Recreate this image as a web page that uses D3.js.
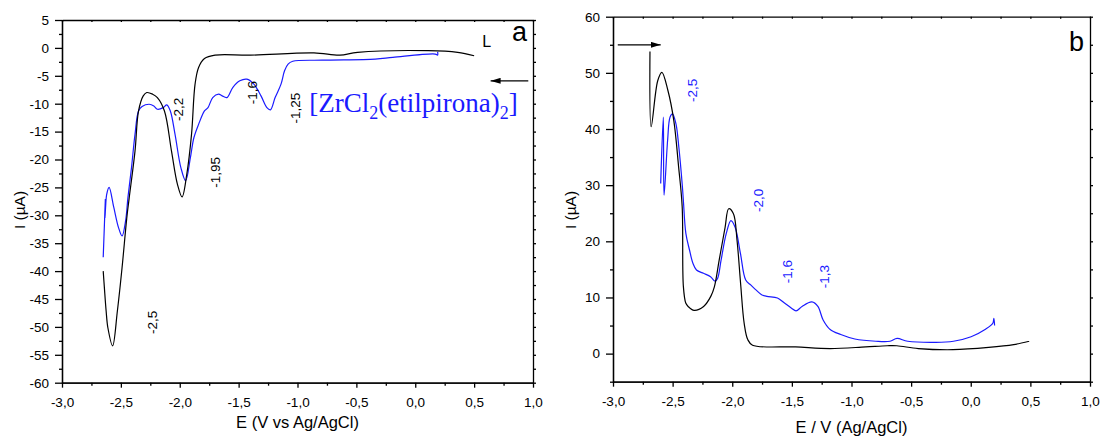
<!DOCTYPE html>
<html>
<head>
<meta charset="utf-8">
<script src="https://cdn.jsdelivr.net/npm/d3@7"></script>
<style>
  body { margin: 0; background: #fff; }
  svg { display: block; font-family: "Liberation Sans", Arial, sans-serif; }
  .axis path, .axis line { stroke: #000; stroke-width: 1.3; }
  .axis text { font-size: 13.5px; fill: #000; }
</style>
</head>
<body>
<svg width="1100" height="436"></svg>
<script>
// tick values
const xMajor = [-3, -2.5, -2, -1.5, -1, -0.5, 0, 0.5, 1];
const xMinor = [-2.75, -2.25, -1.75, -1.25, -0.75, -0.25, 0.25, 0.75];
const yMajorA = [5, 0, -5, -10, -15, -20, -25, -30, -35, -40, -45, -50, -55, -60];
const yMinorA = [2.5, -2.5, -7.5, -12.5, -17.5, -22.5, -27.5, -32.5, -37.5, -42.5, -47.5, -52.5, -57.5];
const yMajorB = [0, 10, 20, 30, 40, 50, 60];
const yMinorB = [-5, 5, 15, 25, 35, 45, 55];

// panel a, L (black), scan from +0.5 V to -2.65 V
const aBlackE = [0.50, 0.36, 0.11, -0.49, -0.64, -0.86, -1.40, -1.70, -1.79, -1.84, -1.87, -1.90, -1.94, -1.98, -2.02, -2.07, -2.13, -2.19, -2.23, -2.28, -2.31, -2.35, -2.38, -2.43, -2.45, -2.49, -2.53, -2.57, -2.61, -2.625, -2.64, -2.65];
const aBlackI = [-1.4, -0.8, -0.5, -0.8, -1.3, -0.9, -1.3, -1.3, -1.9, -3.5, -6.5, -15.5, -22.6, -26.7, -24.4, -18.5, -11.3, -8.9, -8.3, -8.0, -8.6, -11.3, -18.5, -27.0, -30.5, -39.4, -47.2, -53.4, -50.2, -47.2, -43.0, -40.0];

// panel a, complex (blue)
const aBlueE = [0.19, 0.19, 0.17, -0.19, -0.34, -0.79, -1.04, -1.08, -1.11, -1.14, -1.19, -1.23, -1.26, -1.31, -1.37, -1.43, -1.49, -1.55, -1.60, -1.64, -1.67, -1.72, -1.76, -1.79, -1.84, -1.88, -1.91, -1.95, -1.99, -2.04, -2.08, -2.11, -2.14, -2.19, -2.22, -2.26, -2.32, -2.35, -2.38, -2.41, -2.44, -2.46, -2.49, -2.52, -2.56, -2.60, -2.62, -2.63, -2.635, -2.632, -2.64, -2.65];
const aBlueI = [-0.7, -1.3, -1.1, -1.7, -2.0, -2.2, -2.4, -2.9, -4.1, -6.5, -8.9, -11.1, -10.7, -8.6, -6.5, -5.6, -5.9, -7.1, -8.9, -8.6, -8.3, -8.9, -10.7, -11.3, -13.7, -16.1, -19.7, -23.8, -21.5, -15.5, -11.3, -10.2, -10.7, -11.0, -10.4, -10.1, -10.5, -11.3, -15.5, -21.5, -26.8, -31.0, -33.7, -32.2, -28.6, -25.0, -26.2, -28.6, -30.5, -27.2, -31.8, -37.5];

// panel b, black, scan from -2.7 V to +0.5 V
const bBlackE = [-2.69, -2.68, -2.625, -2.59, -2.54, -2.49, -2.45, -2.42, -2.41, -2.39, -2.37, -2.32, -2.24, -2.18, -2.15, -2.11, -2.06, -2.03, -1.99, -1.96, -1.93, -1.90, -1.87, -1.83, -1.47, -1.18, -0.88, -0.70, -0.62, -0.44, -0.15, 0.15, 0.36, 0.49];
const bBlackI = [53.8, 40.4, 48.6, 50.1, 46.9, 41.5, 33.3, 26.2, 12.0, 9.0, 8.4, 7.7, 8.4, 10.2, 11.9, 16.6, 22.5, 25.8, 24.9, 20.2, 12.5, 5.4, 2.5, 1.5, 1.2, 0.9, 1.2, 1.4, 1.4, 0.9, 0.7, 1.1, 1.6, 2.2];

// panel b, blue
const bBlueE = [-2.60, -2.578, -2.572, -2.542, -2.522, -2.501, -2.472, -2.448, -2.418, -2.41, -2.389, -2.359, -2.33, -2.30, -2.241, -2.182, -2.144, -2.123, -2.094, -2.05, -2.011, -1.976, -1.931, -1.887, -1.843, -1.799, -1.754, -1.71, -1.621, -1.562, -1.503, -1.465, -1.415, -1.332, -1.282, -1.238, -1.179, -1.09, -0.972, -0.795, -0.677, -0.618, -0.529, -0.293, -0.145, 0.003, 0.12, 0.185, 0.194, 0.20];
const bBlueI = [30.3, 42.1, 28.2, 38.0, 42.1, 42.7, 40.9, 36.8, 29.7, 27.3, 21.4, 18.5, 16.1, 14.9, 14.3, 13.7, 12.9, 13.4, 16.6, 21.4, 23.7, 22.5, 17.8, 13.1, 12.2, 11.3, 10.5, 10.2, 9.9, 9.0, 8.1, 7.6, 8.4, 9.2, 8.4, 6.0, 4.3, 3.4, 2.6, 2.2, 2.2, 2.7, 2.2, 2.0, 2.2, 3.0, 4.3, 5.4, 6.3, 5.0];

// peak labels (text, E, I)
const aPeakText = ["-2,2", "-1,95", "-1,6", "-1,25", "-2,5"];
const aPeakE = [-2.012, -1.70, -1.382, -1.013, -2.228];
const aPeakI = [-11.0, -22.3, -8.0, -10.8, -49.2];
const bPeakText = ["-2,5", "-2,0", "-1,6", "-1,3"];
const bPeakE = [-2.33, -1.784, -1.533, -1.223];
const bPeakI = [46.9, 27.3, 14.6, 13.7];

const blue = "#1a1aff";
const svg = d3.select("svg");
const fmtX = d => d.toFixed(1).replace(".", ",");
const zip = (E, I) => E.map((e, i) => [e, I[i]]);

svg.append("defs").append("marker")
    .attr("id", "head")
    .attr("viewBox", "0 0 10 6")
    .attr("refX", 10).attr("refY", 3)
    .attr("markerWidth", 10).attr("markerHeight", 6)
    .attr("markerUnits", "userSpaceOnUse")
    .attr("orient", "auto")
  .append("path")
    .attr("d", "M0,0 L10,3 L0,6 Z")
    .attr("fill", "#000");

function panel(p) {
  const x = d3.scaleLinear().domain([-3, 1]).range(p.xr);
  const y = d3.scaleLinear().domain(p.yd).range(p.yr);
  const g = svg.append("g");

  const line = d3.line()
      .x(d => x(d[0]))
      .y(d => y(d[1]))
      .curve(d3.curveCatmullRom.alpha(0.5));

  g.append("path").datum(zip(p.blueE, p.blueI))
      .attr("fill", "none").attr("stroke", blue).attr("stroke-width", 1.2)
      .attr("d", line);
  g.append("path").datum(zip(p.blackE, p.blackI))
      .attr("fill", "none").attr("stroke", "#000").attr("stroke-width", 1.2)
      .attr("d", line);

  // bottom axis
  g.append("g").attr("class", "axis")
      .attr("transform", "translate(0," + p.yr[0] + ")")
      .call(d3.axisBottom(x).tickValues(xMinor).tickSize(3).tickSizeOuter(0).tickFormat(""));
  g.append("g").attr("class", "axis")
      .attr("transform", "translate(0," + p.yr[0] + ")")
      .call(d3.axisBottom(x).tickValues(xMajor).tickSize(5).tickPadding(10).tickSizeOuter(0).tickFormat(fmtX));
  // top axis
  g.append("g").attr("class", "axis")
      .attr("transform", "translate(0," + p.yr[1] + ")")
      .call(d3.axisTop(x).tickValues(xMajor.concat(xMinor)).tickSize(-2).tickSizeOuter(0).tickFormat(""));
  // left axis
  g.append("g").attr("class", "axis")
      .attr("transform", "translate(" + p.xr[0] + ",0)")
      .call(d3.axisLeft(y).tickValues(p.yMinor).tickSize(3).tickSizeOuter(0).tickFormat(""));
  g.append("g").attr("class", "axis")
      .attr("transform", "translate(" + p.xr[0] + ",0)")
      .call(d3.axisLeft(y).tickValues(p.yMajor).tickSize(7).tickPadding(6).tickSizeOuter(0).tickFormat(d => String(d)));
  // right axis
  g.append("g").attr("class", "axis")
      .attr("transform", "translate(" + p.xr[1] + ",0)")
      .call(d3.axisRight(y).tickValues(p.yMajor.concat(p.yMinor)).tickSize(3).tickSizeOuter(0).tickFormat(""));
  g.selectAll(".axis text").attr("font-family", "Liberation Sans, Arial, sans-serif");

  // axis titles
  g.append("text")
      .attr("x", (p.xr[0] + p.xr[1]) / 2).attr("y", p.xTitleY)
      .attr("text-anchor", "middle").attr("font-size", 16.5)
      .text(p.xTitle);
  g.append("text")
      .attr("transform", "translate(" + p.yTitleX + ",210) rotate(-90)")
      .attr("text-anchor", "middle").attr("dominant-baseline", "central")
      .attr("font-size", 15.5)
      .text("I (\u00b5A)");

  // peak labels
  p.peakText.forEach((t, i) => {
    g.append("text")
        .attr("transform", "translate(" + x(p.peakE[i]) + "," + y(p.peakI[i]) + ") rotate(-90)")
        .attr("text-anchor", "middle").attr("dominant-baseline", "central")
        .attr("font-size", 13.5).attr("fill", p.peakColor)
        .text(t);
  });

  // scan arrow
  g.append("line")
      .attr("x1", x(p.arrowE[0])).attr("x2", x(p.arrowE[1]))
      .attr("y1", y(p.arrowI)).attr("y2", y(p.arrowI))
      .attr("stroke", "#000").attr("stroke-width", 1.2)
      .attr("marker-end", "url(#head)");

  // panel letter
  g.append("text")
      .attr("x", p.xr[1] - 6).attr("y", p.letterY)
      .attr("text-anchor", "end").attr("font-size", 27)
      .text(p.letter);

  return { g, x, y };
}

const A = panel({
  xr: [62, 533], yd: [-60, 5], yr: [382.7, 20],
  yMajor: yMajorA, yMinor: yMinorA,
  blackE: aBlackE, blackI: aBlackI, blueE: aBlueE, blueI: aBlueI,
  xTitle: "E (V vs Ag/AgCl)", xTitleY: 428, yTitleX: 19,
  peakText: aPeakText, peakE: aPeakE, peakI: aPeakI, peakColor: "#000",
  arrowE: [0.96, 0.64], arrowI: -5.9,
  letter: "a", letterY: 41
});

const B = panel({
  xr: [613, 1090], yd: [-5, 60], yr: [381.7, 16.7],
  yMajor: yMajorB, yMinor: yMinorB,
  blackE: bBlackE, blackI: bBlackI, blueE: bBlueE, blueI: bBlueI,
  xTitle: "E / V (Ag/AgCl)", xTitleY: 433, yTitleX: 570,
  peakText: bPeakText, peakE: bPeakE, peakI: bPeakI, peakColor: blue,
  arrowE: [-2.96, -2.6], arrowI: 55,
  letter: "b", letterY: 51
});

// "L" label and compound name in panel a
A.g.append("text")
    .attr("x", A.x(0.57)).attr("y", A.y(0.1))
    .attr("font-size", 16)
    .text("L");

const name = A.g.append("text")
    .attr("x", A.x(-0.90)).attr("y", A.y(-11.4))
    .attr("font-family", "Liberation Serif, Times New Roman, serif")
    .attr("font-size", 27).attr("fill", blue);
name.append("tspan").text("[ZrCl");
name.append("tspan").attr("font-size", 18).attr("dy", 7).text("2");
name.append("tspan").attr("dy", -7).text("(etilpirona)");
name.append("tspan").attr("font-size", 18).attr("dy", 7).text("2");
name.append("tspan").attr("dy", -7).text("]");
</script>
</body>
</html>
